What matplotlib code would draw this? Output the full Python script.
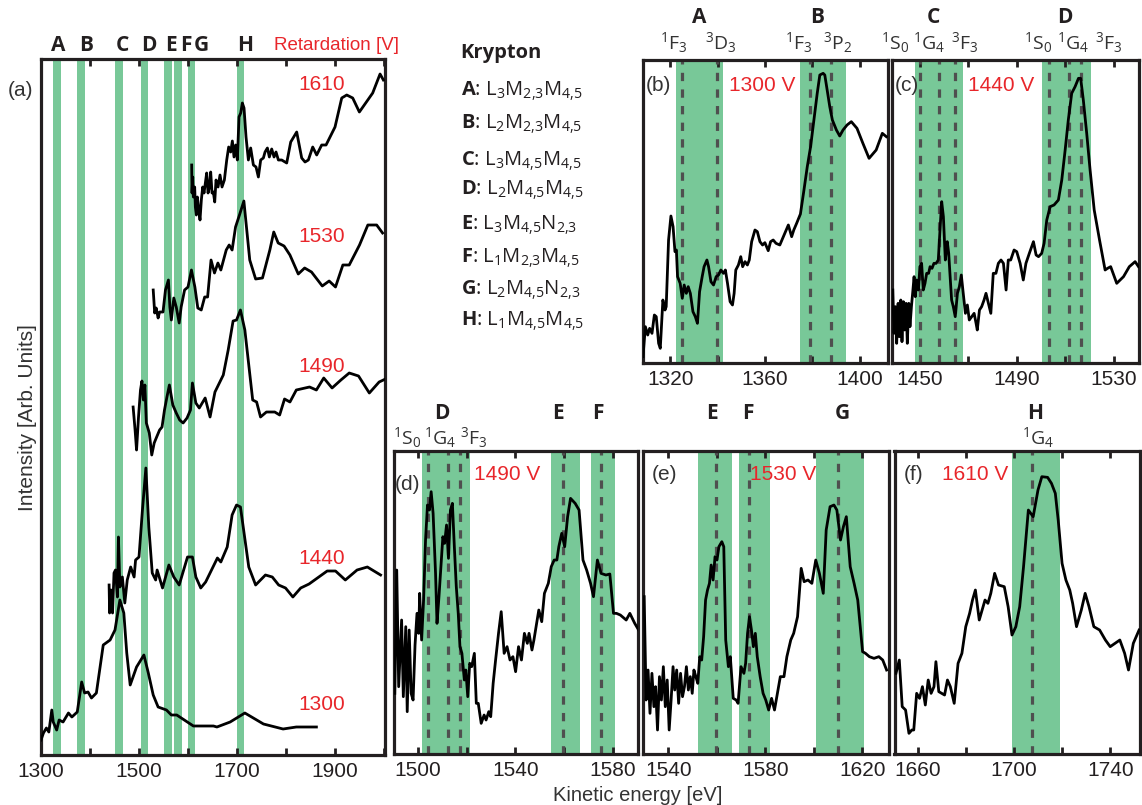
import matplotlib
matplotlib.use("Agg")
import matplotlib.pyplot as plt
import matplotlib.transforms as mtransforms

plt.rcParams['font.family'] = ['Liberation Sans', 'DejaVu Sans']
plt.rcParams['mathtext.default'] = 'regular'
plt.rcParams['mathtext.fontset'] = 'custom'
plt.rcParams['mathtext.rm'] = 'Open Sans'
plt.rcParams['mathtext.bf'] = 'Open Sans:bold'
plt.rcParams['mathtext.it'] = 'Open Sans:italic'

GREEN = '#78c898'
RED = '#e8262b'
DARK = '#231f20'
DASH = '#4f4f4f'

# ---------------- panel (a): offset spectra (energy eV, intensity arb.) -------------
e1300 = [1300, 1305, 1311, 1316, 1322, 1325, 1332, 1337, 1345, 1356, 1363, 1374, 1383, 1389,
         1396, 1403, 1413, 1427, 1441, 1451, 1461, 1469, 1475, 1482, 1495, 1510, 1519, 1529,
         1539, 1556, 1566, 1577, 1611, 1652, 1659, 1686, 1716, 1754, 1794, 1821, 1862]
i1300 = [15, 22, 27, 23, 45, 33, 25, 35, 33, 42, 38, 43, 73, 62,
         63, 57, 62, 110, 115, 125, 155, 142, 102, 70, 88, 100, 82, 60,
         48, 45, 40, 40, 29, 29, 28, 33, 42, 31, 26, 28, 28]

e1440 = [1439, 1440, 1443, 1446, 1449, 1452, 1456, 1458, 1461, 1466, 1471, 1476, 1483, 1490,
         1493, 1500, 1507, 1514, 1520, 1527, 1534, 1537, 1548, 1561, 1571, 1582, 1599, 1609,
         1616, 1626, 1636, 1660, 1667, 1680, 1690, 1699, 1707, 1724, 1738, 1758, 1772, 1785,
         1799, 1814, 1830, 1847, 1884, 1901, 1921, 1945, 1966, 1993]
i1440 = [170, 142, 165, 142, 182, 185, 158, 218, 168, 178, 152, 175, 188, 178,
         195, 198, 245, 287, 228, 182, 175, 185, 167, 190, 178, 170, 198, 198,
         178, 167, 173, 197, 193, 208, 240, 250, 248, 188, 170, 180, 178, 170,
         167, 158, 167, 171, 184, 184, 175, 185, 188, 180]

e1490 = [1488, 1492, 1495, 1499, 1503, 1506, 1509, 1512, 1515, 1521, 1526, 1531, 1536, 1542,
         1547, 1552, 1557, 1562, 1569, 1576, 1583, 1590, 1598, 1605, 1609, 1616, 1623, 1635,
         1645, 1655, 1662, 1672, 1682, 1692, 1699, 1707, 1716, 1732, 1740, 1748, 1760, 1777,
         1787, 1797, 1808, 1821, 1848, 1862, 1877, 1894, 1912, 1929, 1948, 1970, 1990, 2003]
i1490 = [348, 325, 305, 338, 365, 374, 355, 370, 332, 322, 300, 312, 318, 325,
         328, 345, 358, 370, 350, 342, 335, 332, 337, 345, 372, 352, 347, 357,
         338, 363, 370, 380, 405, 434, 435, 445, 425, 355, 353, 338, 343, 343,
         340, 356, 353, 365, 368, 365, 377, 367, 375, 382, 379, 362, 373, 376]

e1530 = [1529, 1532, 1535, 1539, 1542, 1549, 1554, 1560, 1563, 1566, 1571, 1576, 1582, 1586,
         1593, 1600, 1607, 1614, 1620, 1627, 1634, 1640, 1647, 1654, 1661, 1667, 1678, 1684,
         1690, 1697, 1705, 1714, 1726, 1738, 1752, 1767, 1775, 1784, 1796, 1808, 1825, 1838,
         1852, 1874, 1888, 1901, 1916, 1929, 1950, 1967, 1985, 1997]
i1530 = [465, 442, 447, 437, 443, 443, 465, 475, 448, 435, 457, 448, 432, 448,
         465, 468, 485, 468, 447, 445, 458, 458, 495, 482, 492, 485, 505, 510,
         505, 528, 540, 554, 495, 476, 477, 505, 523, 512, 509, 500, 481, 487,
         483, 469, 474, 468, 490, 490, 510, 530, 530, 522]

e1610 = [1607.5, 1608.2, 1609.6, 1610.9, 1613.6, 1615.0, 1617.0, 1619.1, 1621.8, 1624.5,
         1627.2, 1630.0, 1632.7, 1635.4, 1638.1, 1640.9, 1643.6, 1646.3, 1649.0, 1651.7,
         1654.5, 1657.2, 1661.3, 1665.3, 1669.4, 1674.2, 1679.0, 1683.0, 1687.1, 1690.5,
         1693.9, 1697.3, 1700.7, 1704.1, 1707.5, 1710.9, 1714.3, 1718.4, 1723.2, 1727.9,
         1733.4, 1738.8, 1743.6, 1748.3, 1753.8, 1757.2, 1762.0, 1766.0, 1770.8, 1775.6,
         1779.6, 1784.4, 1791.2, 1801.4, 1809.6, 1821.8, 1832.0, 1838.8, 1845.6, 1854.5,
         1862.6, 1872.8, 1881.7, 1900.0, 1913.7, 1923.9, 1936.1, 1949.7, 1976.9, 1991.9, 1998.7]
i1610 = [590, 562, 578, 558, 568, 548, 540, 558, 545, 535,
         555, 568, 562, 572, 582, 562, 568, 583, 562, 563,
         553, 575, 568, 580, 568, 575, 595, 608, 603, 614,
         598, 610, 595, 638, 642, 652, 647, 618, 595, 607,
         590, 588, 578, 595, 597, 603, 607, 598, 606, 598,
         603, 595, 595, 592, 613, 623, 597, 593, 595, 608,
         600, 610, 610, 628, 657, 660, 657, 643, 662, 681, 675]

a_traces = [(e1300, i1300), (e1440, i1440), (e1490, i1490), (e1530, i1530), (e1610, i1610)]
a_retard_labels = ['1300', '1440', '1490', '1530', '1610']
a_label_level = [51, 197, 389, 518, 671]

a_bands = [(1325, 1340), (1374, 1390), (1451, 1467), (1504, 1518),
           (1552, 1567), (1572, 1587), (1599, 1614), (1699, 1715)]
a_letters = ['A', 'B', 'C', 'D', 'E', 'F', 'G', 'H']
a_letter_pos = [1335, 1393, 1466, 1520, 1565, 1595, 1628, 1716]

# ---------------- zoomed panels (energy, intensity arb.) ---------------------------
b_data = [(1308.5, 19), (1309.5, 109), (1310.5, 84), (1311.3, 104), (1312.3, 89), (1313.3, 144),
          (1314.1, 139), (1315.1, 59), (1315.8, 44), (1316.9, 189), (1317.8, 159), (1318.3, 169),
          (1319.3, 369), (1320.3, 441), (1321.2, 409), (1322.0, 334), (1322.6, 339), (1323.1, 259),
          (1324.2, 239), (1325.1, 194), (1325.9, 234), (1326.8, 209), (1327.6, 229), (1328.5, 209),
          (1329.6, 154), (1330.6, 139), (1331.5, 119), (1332.4, 214), (1333.5, 259), (1334.3, 289),
          (1335.5, 309), (1336.2, 289), (1337.2, 244), (1338.3, 234), (1339.4, 259), (1340.4, 264),
          (1341.4, 279), (1342.5, 269), (1343.3, 279), (1344.2, 239), (1345.3, 184), (1346.3, 174),
          (1347.0, 209), (1347.7, 279), (1348.8, 294), (1349.8, 319), (1350.6, 289), (1351.6, 304),
          (1352.6, 294), (1353.4, 309), (1354.4, 364), (1355.8, 399), (1356.8, 394), (1357.9, 364),
          (1359.0, 354), (1360.0, 361), (1361.4, 337), (1362.4, 364), (1363.5, 369), (1364.7, 359),
          (1366.3, 354), (1367.8, 379), (1369.9, 414), (1371.3, 379), (1372.2, 399), (1373.4, 419),
          (1375.0, 447), (1376.5, 519), (1377.9, 589), (1379.3, 649), (1380.7, 729), (1382.1, 809),
          (1383.2, 864), (1384.6, 869), (1385.3, 864), (1386.3, 819), (1387.4, 769), (1388.5, 729),
          (1390.2, 699), (1391.6, 681), (1393.0, 699), (1394.7, 714), (1396.5, 724), (1398.9, 704),
          (1401.4, 659), (1404.0, 614), (1407.0, 639), (1409.6, 689), (1411.3, 679)]

c_data = [(1438.8, 219), (1439.3, 89), (1439.9, 169), (1440.4, 59), (1441.0, 179), (1441.5, 79),
          (1442.1, 189), (1442.6, 64), (1443.2, 184), (1443.7, 99), (1444.3, 179), (1444.8, 59),
          (1445.4, 179), (1445.9, 109), (1446.5, 169), (1447.0, 209), (1447.6, 259), (1448.1, 199),
          (1448.7, 249), (1449.4, 219), (1450.0, 289), (1450.7, 299), (1451.4, 219), (1452.1, 239),
          (1452.8, 269), (1453.6, 269), (1454.2, 289), (1455.0, 284), (1455.8, 299), (1456.7, 299),
          (1457.6, 309), (1458.3, 399), (1459.0, 484), (1459.7, 439), (1460.5, 309), (1461.3, 364),
          (1461.9, 329), (1462.4, 269), (1463.1, 189), (1463.8, 169), (1464.6, 139), (1465.5, 209),
          (1466.3, 229), (1467.1, 264), (1467.9, 209), (1468.8, 149), (1469.6, 174), (1470.4, 129),
          (1471.4, 139), (1472.4, 149), (1473.2, 119), (1473.7, 99), (1474.6, 159), (1475.5, 169),
          (1476.5, 189), (1477.3, 209), (1478.3, 179), (1479.3, 149), (1480.3, 269), (1481.4, 269),
          (1482.4, 299), (1483.5, 309), (1484.5, 299), (1485.6, 219), (1486.5, 309), (1487.5, 309),
          (1488.9, 339), (1490.0, 334), (1491.4, 299), (1492.7, 249), (1493.8, 299), (1495.2, 329),
          (1496.9, 364), (1498.0, 324), (1499.0, 319), (1500.3, 329), (1501.3, 359), (1502.4, 429),
          (1503.8, 469), (1505.4, 474), (1507.2, 489), (1508.6, 549), (1510.0, 639), (1511.3, 729),
          (1512.7, 809), (1514.1, 829), (1515.5, 854), (1516.4, 854), (1517.5, 789), (1518.9, 689),
          (1520.3, 579), (1522.0, 459), (1524.2, 369), (1526.5, 279), (1527.5, 284), (1528.8, 289),
          (1531.3, 239), (1534.1, 259), (1536.5, 289), (1538.9, 304), (1540.3, 289)]

d_data = [(1490.6, 182), (1491.4, 552), (1492.2, 202), (1493.4, 402), (1494.1, 172), (1495.1, 382),
          (1495.7, 127), (1496.5, 372), (1497.3, 182), (1498.1, 162), (1498.9, 327), (1499.7, 422),
          (1500.4, 362), (1500.8, 482), (1501.6, 342), (1502.4, 462), (1503.2, 642), (1504.0, 747),
          (1504.8, 732), (1505.5, 787), (1506.3, 722), (1507.3, 542), (1507.9, 392), (1508.7, 472),
          (1509.5, 562), (1510.3, 652), (1511.0, 632), (1511.8, 687), (1512.6, 587), (1513.4, 732),
          (1514.2, 752), (1515.0, 622), (1515.8, 502), (1516.6, 422), (1517.3, 322), (1518.1, 302),
          (1519.1, 222), (1519.7, 252), (1520.5, 172), (1521.3, 272), (1522.1, 262), (1523.2, 302),
          (1524.0, 152), (1524.8, 152), (1526.0, 92), (1527.2, 117), (1528.0, 102), (1529.1, 127),
          (1529.9, 112), (1530.9, 212), (1531.9, 282), (1533.1, 362), (1534.2, 427), (1535.4, 302),
          (1536.6, 322), (1537.8, 282), (1539.0, 292), (1540.1, 247), (1541.3, 322), (1542.5, 282),
          (1543.7, 362), (1544.9, 332), (1545.6, 362), (1546.8, 312), (1547.6, 342), (1549.6, 432),
          (1550.8, 397), (1551.9, 482), (1553.5, 512), (1554.7, 562), (1555.9, 582), (1557.0, 582),
          (1557.8, 622), (1559.0, 662), (1560.2, 622), (1561.4, 712), (1562.6, 767), (1564.5, 752),
          (1566.1, 732), (1567.7, 582), (1569.2, 552), (1570.8, 512), (1572.0, 472), (1573.6, 582),
          (1575.1, 542), (1577.1, 537), (1578.7, 540), (1580.2, 422), (1581.4, 422), (1583.0, 417),
          (1585.4, 402), (1586.9, 422), (1588.9, 392), (1590.5, 372)]

e_data = [(1530.1, 472), (1530.9, 162), (1531.7, 252), (1532.5, 122), (1533.3, 242), (1534.1, 142),
          (1534.8, 202), (1535.6, 72), (1536.4, 232), (1537.2, 162), (1538.0, 262), (1538.8, 142),
          (1539.6, 222), (1540.4, 72), (1541.2, 162), (1542.0, 262), (1542.7, 192), (1543.5, 252),
          (1544.3, 152), (1545.1, 242), (1545.9, 172), (1546.7, 202), (1547.5, 262), (1548.3, 192),
          (1549.1, 232), (1549.9, 182), (1550.6, 252), (1551.4, 232), (1552.2, 212), (1553.0, 292),
          (1553.8, 282), (1554.6, 352), (1555.4, 462), (1556.2, 492), (1557.0, 512), (1557.7, 567),
          (1558.5, 522), (1559.3, 592), (1560.1, 582), (1560.9, 622), (1562.1, 637), (1562.9, 622),
          (1563.7, 342), (1564.8, 262), (1565.6, 292), (1566.8, 167), (1568.0, 162), (1568.8, 152),
          (1570.0, 262), (1571.2, 242), (1571.9, 272), (1572.7, 362), (1573.5, 412), (1574.3, 372),
          (1575.1, 322), (1575.9, 362), (1576.7, 292), (1577.9, 232), (1579.1, 182), (1580.2, 162),
          (1581.4, 132), (1582.6, 167), (1583.8, 132), (1585.0, 182), (1586.2, 232), (1587.7, 232),
          (1588.9, 292), (1590.5, 342), (1591.7, 362), (1593.3, 412), (1594.8, 557), (1596.0, 517),
          (1597.6, 522), (1599.2, 512), (1600.8, 582), (1602.3, 542), (1603.9, 482), (1605.1, 672),
          (1606.7, 742), (1608.3, 747), (1609.5, 732), (1611.0, 642), (1612.2, 682), (1613.4, 712),
          (1615.0, 562), (1616.6, 512), (1618.1, 462), (1620.1, 307), (1621.3, 302), (1622.9, 292),
          (1624.8, 287), (1626.8, 292), (1628.4, 282), (1630.0, 252)]

f_data = [(1651.0, 242), (1652.4, 282), (1653.6, 142), (1655.0, 132), (1656.4, 62), (1657.6, 72),
          (1658.4, 72), (1659.6, 182), (1660.8, 167), (1662.0, 202), (1663.2, 147), (1664.4, 222),
          (1665.6, 182), (1666.8, 202), (1667.6, 277), (1668.8, 187), (1670.0, 182), (1671.2, 177),
          (1672.4, 222), (1673.6, 202), (1675.2, 152), (1676.8, 272), (1678.4, 302), (1680.0, 382),
          (1681.6, 422), (1682.8, 462), (1684.0, 492), (1685.6, 402), (1686.8, 432), (1688.0, 462),
          (1689.2, 452), (1690.4, 482), (1692.0, 542), (1693.6, 507), (1696.0, 502), (1697.6, 442),
          (1699.2, 357), (1700.8, 382), (1702.4, 442), (1704.0, 562), (1706.0, 732), (1708.0, 712),
          (1710.0, 792), (1711.6, 832), (1714.0, 830), (1715.6, 812), (1717.2, 782), (1718.4, 702),
          (1720.0, 572), (1721.6, 522), (1723.2, 492), (1724.4, 452), (1726.0, 382), (1728.0, 432),
          (1729.6, 482), (1731.2, 442), (1733.2, 382), (1735.6, 372), (1738.0, 342), (1740.0, 322),
          (1742.0, 332), (1744.0, 342), (1746.0, 302), (1747.6, 252), (1749.6, 332), (1752.0, 372)]

panels = {
    'b': dict(data=b_data, xlim=(1308.5, 1412), ylim=(0, 909), ticks=[1320, 1340, 1360, 1380, 1400],
              labels=[1320, 1360, 1400], bands=[(1322.5, 1342.4), (1374.7, 1394.4)],
              dashes=[1324.9, 1339.7, 1379.0, 1388.0], volt='1300 V', tag='(b)',
              letters=[('A', 1332.4), ('B', 1382.0)],
              terms=[('$^1$F$_3$', 1321.4), ('$^3$D$_3$', 1341.5), ('$^1$F$_3$', 1374.4), ('$^3$P$_2$', 1390.9)],
              rect=(643, 60, 888, 363), tagpos=(0.061, 0.917), voltpos=(0.485, 0.917)),
    'c': dict(data=c_data, xlim=(1438.6, 1540.5), ylim=(0, 909), ticks=[1450, 1470, 1490, 1510, 1530],
              labels=[1450, 1490, 1530], bands=[(1448.0, 1468.0), (1500.6, 1520.6)],
              dashes=[1450.0, 1458.0, 1464.5, 1503.5, 1511.4, 1516.5], volt='1440 V', tag='(c)',
              letters=[('C', 1455.5), ('D', 1509.7)],
              terms=[('$^1$S$_0$', 1439.7), ('$^1$G$_4$', 1454.0), ('$^3$F$_3$', 1468.6),
                     ('$^1$S$_0$', 1498.7), ('$^1$G$_4$', 1513.4), ('$^3$F$_3$', 1527.9)],
              rect=(892.3, 60, 1139, 363), tagpos=(0.058, 0.917), voltpos=(0.443, 0.917)),
    'd': dict(data=d_data, xlim=(1490.2, 1590.4), ylim=(0, 910), ticks=[1500, 1520, 1540, 1560, 1580],
              labels=[1500, 1540, 1580], bands=[(1501.6, 1521.3), (1554.7, 1566.3), (1570.8, 1581.0)],
              dashes=[1504.4, 1512.3, 1517.3, 1559.4, 1575.1], volt='1490 V', tag='(d)',
              letters=[('D', 1509.9), ('E', 1557.5), ('F', 1573.6)],
              terms=[('$^1$S$_0$', 1495.5), ('$^1$G$_4$', 1509.3), ('$^3$F$_3$', 1523.0)],
              rect=(393.8, 450.7, 638.4, 754), tagpos=(0.058, 0.887), voltpos=(0.465, 0.92)),
    'e': dict(data=e_data, xlim=(1529.7, 1630.9), ylim=(0, 910), ticks=[1540, 1560, 1580, 1600, 1620],
              labels=[1540, 1580, 1620], bands=[(1552.4, 1566.2), (1569.2, 1582.0), (1600.8, 1620.5)],
              dashes=[1559.7, 1573.5, 1610.0], volt='1530 V', tag='(e)',
              letters=[('E', 1558.1), ('F', 1572.7), ('G', 1611.6)],
              terms=[],
              rect=(643.2, 450.7, 888.8, 754), tagpos=(0.085, 0.92), voltpos=(0.57, 0.92)),
    'f': dict(data=f_data, xlim=(1650.4, 1752.5), ylim=(0, 910), ticks=[1660, 1680, 1700, 1720, 1740],
              labels=[1660, 1700, 1740], bands=[(1699.0, 1719.0)],
              dashes=[1707.6], volt='1610 V', tag='(f)',
              letters=[('H', 1709.0)],
              terms=[('$^1$G$_4$', 1710.0)],
              rect=(894.5, 450.7, 1140.3, 754), tagpos=(0.079, 0.92), voltpos=(0.327, 0.92)),
}

legend_title = 'Krypton'
legend_letters = ['A', 'B', 'C', 'D', 'E', 'F', 'G', 'H']
legend_trans = ['L$_3$M$_{2{,}3}$M$_{4{,}5}$', 'L$_2$M$_{2{,}3}$M$_{4{,}5}$',
                'L$_3$M$_{4{,}5}$M$_{4{,}5}$', 'L$_2$M$_{4{,}5}$M$_{4{,}5}$',
                'L$_3$M$_{4{,}5}$N$_{2{,}3}$', 'L$_1$M$_{2{,}3}$M$_{4{,}5}$',
                'L$_2$M$_{4{,}5}$N$_{2{,}3}$', 'L$_1$M$_{4{,}5}$M$_{4{,}5}$']

# ---------------------------------------------------------------------------
W, H = 1142, 805
fig = plt.figure(figsize=(W / 100, H / 100), dpi=100)


def add_ax(l, t, r, b):
    return fig.add_axes([l / W, 1 - b / H, (r - l) / W, (b - t) / H])


def style(ax):
    for s in ax.spines.values():
        s.set_linewidth(2.3)
        s.set_color(DARK)
    ax.tick_params(axis='x', direction='in', top=True, bottom=True, length=5, width=2,
                   labelsize=15, colors=DARK, pad=5)
    ax.tick_params(axis='y', left=False, right=False, labelleft=False)


# panel (a)
axa = add_ax(41, 59, 385, 755)
style(axa)
for lo, hi in a_bands:
    axa.axvspan(lo, hi, color=GREEN, lw=0, zorder=1)
for (ee, ii) in a_traces:
    axa.plot(ee, ii, color='black', lw=2.0, zorder=3)
axa.set_xlim(1300, 2002)
axa.set_ylim(0, 696)
axa.set_xticks(range(1300, 2001, 100))
axa.set_xticklabels([str(v) if v % 200 == 100 else '' for v in range(1300, 2001, 100)])
tr = mtransforms.blended_transform_factory(axa.transData, axa.transAxes)
for lab, lvl in zip(a_retard_labels, a_label_level):
    axa.text(1873, lvl, lab, color=RED, fontsize=15, ha='center', va='center', zorder=4)
for let, pos in zip(a_letters, a_letter_pos):
    axa.text(pos, 1.02, let, transform=tr, fontsize=15, fontweight='bold', family='Open Sans',
             ha='center', va='center', color=DARK)
axa.text(1903, 1.02, 'Retardation [V]', transform=tr, color=RED, fontsize=13.5,
         ha='center', va='center')
fig.text(20.7 / W, 1 - 90 / H, '(a)', fontsize=15, ha='center', va='center', color='#333333')
fig.text(28 / W, 1 - 418 / H, 'Intensity [Arb. Units]', rotation=90, fontsize=15,
         ha='center', va='center', color='#333333')

# zoomed panels
for key, p in panels.items():
    ax = add_ax(*p['rect'])
    style(ax)
    for lo, hi in p['bands']:
        ax.axvspan(lo, hi, color=GREEN, lw=0, zorder=1)
    for xd in p['dashes']:
        ax.axvline(xd, color=DASH, lw=2.3, linestyle=(0, (2.6, 2.6)), zorder=2)
    ex = [d[0] for d in p['data']]
    iy = [d[1] for d in p['data']]
    ax.plot(ex, iy, color='black', lw=2.0, zorder=3)
    ax.set_xlim(*p['xlim'])
    ax.set_ylim(*p['ylim'])
    ax.set_xticks(p['ticks'])
    ax.set_xticklabels([str(t) if t in p['labels'] else '' for t in p['ticks']])
    ax.text(*p['tagpos'], p['tag'], transform=ax.transAxes, fontsize=15, ha='center',
            va='center', color='#333333', zorder=5)
    ax.text(*p['voltpos'], p['volt'], transform=ax.transAxes, fontsize=15, ha='center',
            va='center', color=RED, zorder=5)
    trp = mtransforms.blended_transform_factory(ax.transData, ax.transAxes)
    top_row = p['rect'][1] < 200
    y_let = 1.139 if top_row else 1.124
    y_term = 1.056 if top_row else 1.045
    for let, xpos in p['letters']:
        ax.text(xpos, y_let, let, transform=trp, fontsize=15, fontweight='bold',
                family='Open Sans', ha='center', va='center', color=DARK)
    for term, xpos in p['terms']:
        ax.text(xpos, y_term, term, transform=trp, fontsize=14, family='Open Sans',
                ha='center', va='center', color='#333333')

fig.text(638 / W, 1 - 795 / H, 'Kinetic energy [eV]', fontsize=14.5, ha='center',
         va='center', color='#333333')

# legend text block
fig.text(460.7 / W, 1 - 52.7 / H, legend_title, fontsize=14.5, fontweight='bold',
         family='Open Sans', ha='left', va='center', color=DARK)
legend_y = [91.7, 124, 161.7, 190, 225, 258.3, 290, 321.7]
for let, tx, yy in zip(legend_letters, legend_trans, legend_y):
    fig.text(460.7 / W, 1 - yy / H, r'$\mathbf{%s}$: ' % let + tx, fontsize=14.5,
             family='Open Sans', ha='left', va='center', color=DARK)

fig.savefig('out.png', dpi=100)
